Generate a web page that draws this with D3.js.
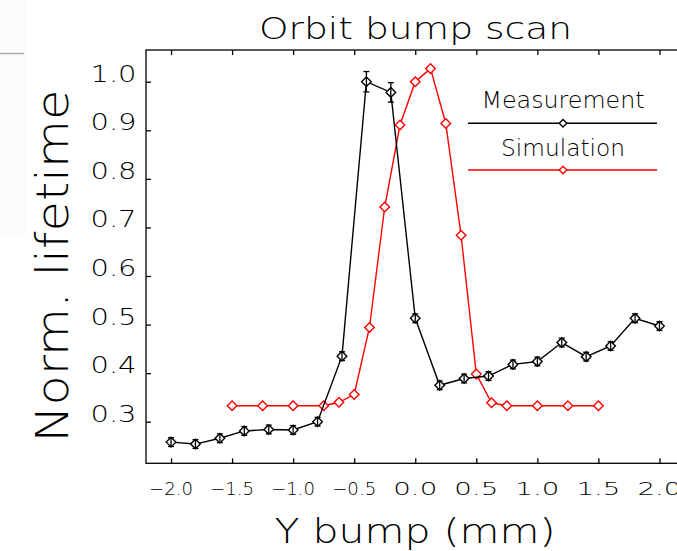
<!DOCTYPE html>
<html>
<head>
<meta charset="utf-8">
<script src="https://cdn.jsdelivr.net/npm/d3@7"></script>
<style>
  html, body { margin: 0; padding: 0; background: #fff; }
  svg { display: block; }
  text { font-family: "DejaVu Sans ExtraLight", "DejaVu Sans", sans-serif; font-weight: 200; fill: #000; }
</style>
</head>
<body>
<svg id="chart" width="677" height="551"></svg>
<script>
// ---- data ----
const measX = [-2.0, -1.8, -1.6, -1.4, -1.2, -1.0, -0.8, -0.6, -0.4, -0.2, 0.0, 0.2, 0.4, 0.6, 0.8, 1.0, 1.2, 1.4, 1.6, 1.8, 2.0];
const measY = [0.258, 0.254, 0.266, 0.281, 0.284, 0.283, 0.300, 0.435, 1.000, 0.978, 0.513, 0.375, 0.389, 0.394, 0.418, 0.424, 0.463, 0.434, 0.456, 0.513, 0.497];
const measErr = [0.009, 0.009, 0.009, 0.009, 0.009, 0.009, 0.009, 0.009, 0.021, 0.020, 0.009, 0.009, 0.009, 0.009, 0.009, 0.009, 0.009, 0.009, 0.009, 0.009, 0.009];
const simX = [-1.5, -1.25, -1.0, -0.75, -0.625, -0.5, -0.375, -0.25, -0.125, 0.0, 0.125, 0.25, 0.375, 0.5, 0.625, 0.75, 1.0, 1.25, 1.5];
const simY = [0.333, 0.333, 0.333, 0.333, 0.340, 0.356, 0.494, 0.742, 0.911, 1.000, 1.027, 0.914, 0.684, 0.398, 0.339, 0.333, 0.333, 0.333, 0.333];
const xTicks = [-2.0, -1.5, -1.0, -0.5, 0.0, 0.5, 1.0, 1.5, 2.0];
const xTickLabels = ["\u22122.0", "\u22121.5", "\u22121.0", "\u22120.5", "0.0", "0.5", "1.0", "1.5", "2.0"];
const yTicks = [0.3, 0.4, 0.5, 0.6, 0.7, 0.8, 0.9, 1.0];
const yTickLabels = ["0.3", "0.4", "0.5", "0.6", "0.7", "0.8", "0.9", "1.0"];
const seriesNames = ["Measurement", "Simulation"];
const seriesColors = ["#000000", "#ff0000"];

// ---- layout ----
const svg = d3.select("#chart");
const mLeft = 146, mTop = 50, mBottom = 463.3, mRight = 690;
const x = d3.scaleLinear().domain([-2.205, 2.25]).range([mLeft, mRight]);
const y = d3.scaleLinear().domain([0.2144, 1.0653]).range([mBottom, mTop]);

// faint artifact at top-left
svg.append("rect").attr("x", 0).attr("y", 0).attr("width", 26).attr("height", 235).attr("fill", "#fbfbfb");
svg.append("line").attr("x1", 0).attr("x2", 24).attr("y1", 53.5).attr("y2", 53.5)
  .attr("stroke", "#aaa").attr("stroke-width", 1.5);

// frame
svg.append("rect").attr("x", mLeft).attr("y", mTop).attr("width", mRight - mLeft).attr("height", mBottom - mTop)
  .attr("fill", "none").attr("stroke", "#000").attr("stroke-width", 1.3);

// axes with inward ticks
const xAxisB = d3.axisTop(x).tickValues(xTicks).tickFormat("").tickSize(5).tickSizeOuter(0);
svg.append("g").attr("transform", `translate(0,${mBottom})`).call(xAxisB)
  .call(g => g.select(".domain").remove());
const xAxisT = d3.axisBottom(x).tickValues(xTicks).tickFormat("").tickSize(5).tickSizeOuter(0);
svg.append("g").attr("transform", `translate(0,${mTop})`).call(xAxisT)
  .call(g => g.select(".domain").remove());
const yAxisL = d3.axisRight(y).tickValues(yTicks).tickFormat("").tickSize(5).tickSizeOuter(0);
svg.append("g").attr("transform", `translate(${mLeft},0)`).call(yAxisL)
  .call(g => g.select(".domain").remove());
svg.selectAll(".tick line").attr("stroke", "#000").attr("stroke-width", 1.3);

// tick labels
svg.append("g").selectAll("text").data(xTicks).join("text")
  .attr("x", d => x(d)).attr("y", 495).attr("text-anchor", "middle")
  .attr("font-size", 18).attr("textLength", 44).attr("lengthAdjust", "spacingAndGlyphs")
  .text((d, i) => xTickLabels[i]);
svg.append("g").selectAll("text").data(yTicks).join("text")
  .attr("x", 136.5).attr("y", d => y(d)).attr("text-anchor", "end")
  .attr("font-size", 23).attr("textLength", 46).attr("lengthAdjust", "spacingAndGlyphs")
  .text((d, i) => yTickLabels[i]);

// titles
svg.append("text").attr("x", 415.5).attr("y", 39).attr("text-anchor", "middle")
  .attr("font-size", 30).attr("textLength", 313).attr("lengthAdjust", "spacingAndGlyphs")
  .text("Orbit bump scan");
svg.append("text").attr("x", 415).attr("y", 543).attr("text-anchor", "middle")
  .attr("font-size", 34).attr("textLength", 281).attr("lengthAdjust", "spacingAndGlyphs")
  .text("Y bump (mm)");
svg.append("text").attr("transform", "translate(68,266) rotate(-90)").attr("text-anchor", "middle")
  .attr("font-size", 44).attr("textLength", 353).attr("lengthAdjust", "spacingAndGlyphs")
  .text("Norm. lifetime");

// diamond path helper
function diamond(cx, cy, r) {
  return `M${cx},${cy - r}L${cx + r},${cy}L${cx},${cy + r}L${cx - r},${cy}Z`;
}

const meas = measX.map((v, i) => ({ x: v, y: measY[i], e: measErr[i] }));
const sim = simX.map((v, i) => ({ x: v, y: simY[i] }));
const line = d3.line().x(d => x(d.x)).y(d => y(d.y));

svg.append("path").datum(sim).attr("d", line).attr("fill", "none")
  .attr("stroke", seriesColors[1]).attr("stroke-width", 1.4);
svg.append("g").selectAll("path").data(sim).join("path")
  .attr("d", d => diamond(x(d.x), y(d.y), 4.8))
  .attr("fill", "#fff").attr("stroke", seriesColors[1]).attr("stroke-width", 1.4);

svg.append("path").datum(meas).attr("d", line).attr("fill", "none")
  .attr("stroke", seriesColors[0]).attr("stroke-width", 1.4);
svg.append("g").selectAll("path").data(meas).join("path")
  .attr("d", d => diamond(x(d.x), y(d.y), 4.8))
  .attr("fill", "#fff").attr("stroke", seriesColors[0]).attr("stroke-width", 1.4);
// error bars
const eb = svg.append("g").attr("stroke", "#000").attr("stroke-width", 1.3);
eb.selectAll("line.v").data(meas).join("line").attr("class", "v")
  .attr("x1", d => x(d.x)).attr("x2", d => x(d.x))
  .attr("y1", d => y(d.y + d.e)).attr("y2", d => y(d.y - d.e));
eb.selectAll("line.t").data(meas).join("line").attr("class", "t")
  .attr("x1", d => x(d.x) - 3).attr("x2", d => x(d.x) + 3)
  .attr("y1", d => y(d.y + d.e)).attr("y2", d => y(d.y + d.e));
eb.selectAll("line.b").data(meas).join("line").attr("class", "b")
  .attr("x1", d => x(d.x) - 3).attr("x2", d => x(d.x) + 3)
  .attr("y1", d => y(d.y - d.e)).attr("y2", d => y(d.y - d.e));

// legend
const legY = [123.3, 170];
const legTextY = [108.3, 156];
const legTextLen = [163, 124];
seriesNames.forEach((name, i) => {
  svg.append("line").attr("x1", 468).attr("x2", 657).attr("y1", legY[i]).attr("y2", legY[i])
    .attr("stroke", seriesColors[i]).attr("stroke-width", 1.4);
  svg.append("path").attr("d", diamond(563, legY[i], 3.8))
    .attr("fill", "#fff").attr("stroke", seriesColors[i]).attr("stroke-width", 1.4);
  svg.append("text").attr("x", 563).attr("y", legTextY[i]).attr("text-anchor", "middle")
    .attr("font-size", 23).attr("textLength", legTextLen[i]).attr("lengthAdjust", "spacingAndGlyphs")
    .text(name);
});
</script>
</body>
</html>
